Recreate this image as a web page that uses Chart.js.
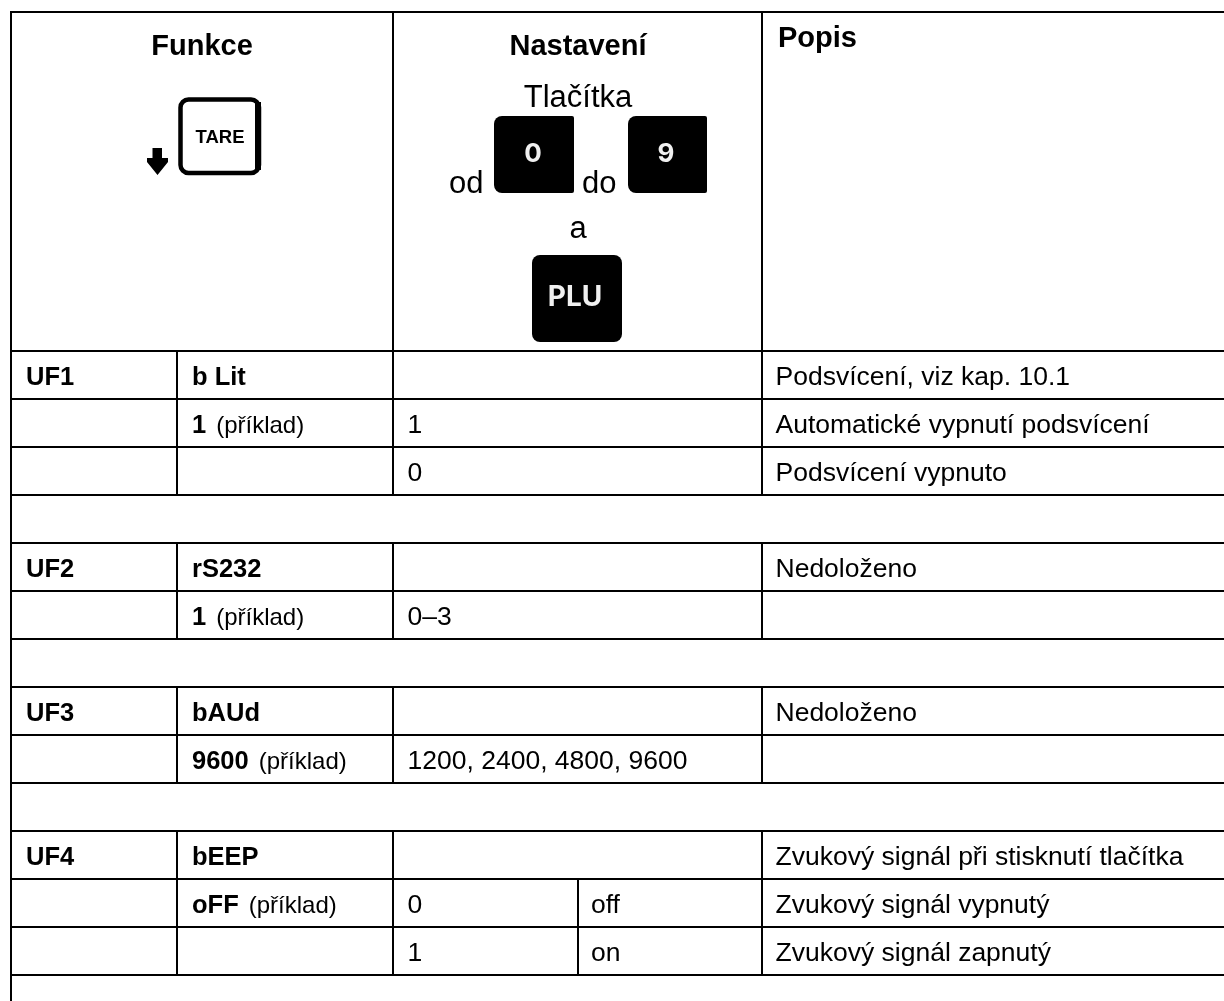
<!DOCTYPE html>
<html><head><meta charset="utf-8">
<style>html,body{margin:0;padding:0;background:#fff}canvas{display:block}</style>
<script src="https://cdn.jsdelivr.net/npm/chart.js@4"></script>
</head><body><canvas id="c" width="1224" height="1001"></canvas>
<script>
// Table content
const col1 = ["UF1","","","", "UF2","","", "UF3","","", "UF4","",""];
const col2Bold = ["b Lit","1","","", "rS232","1","", "bAUd","9600","", "bEEP","oFF",""];
const col2Note = ["","(příklad)","","", "","(příklad)","", "","(příklad)","", "","(příklad)",""];
const col3 = ["","1","0","", "","0–3","", "","1200, 2400, 4800, 9600","", "","0","1"];
const col4 = ["","","","", "","","", "","","", "","off","on"];
const col5 = ["Podsvícení, viz kap. 10.1","Automatické vypnutí podsvícení","Podsvícení vypnuto","",
 "Nedoloženo","","", "Nedoloženo","","", "Zvukový signál při stisknutí tlačítka","Zvukový signál vypnutý","Zvukový signál zapnutý"];
const headerBold = ["Funkce","Nastavení","Popis"];
const headerLines = ["Tlačítka","od","do","a"];
const keyLabels = ["TARE","0","9","PLU"];

// Layout (pixel grid of the reference, read through the chart's scales)
const colX = [11,177,393,578,762,1224];
const rowY = [12,351,399,447,495,543,591,639,687,735,783,831,879,927,975];
const spacerRows = [3,6,9];
const FONT = '"Liberation Sans", Arial, sans-serif';
const BODY = 26.5, BOLD = 25.5, NOTE = 24, HEAD = 29, HEADREG = 31;

const tablePlugin = {
  id:'table',
  afterDatasetsDraw(chart){
    const {ctx, scales:{x,y}} = chart;
    const X=v=>x.getPixelForValue(v), Y=v=>y.getPixelForValue(v);
    ctx.save();
    ctx.strokeStyle='#000'; ctx.lineWidth=2; ctx.lineCap='butt';
    const line=(a,b,c,d)=>{ctx.beginPath();ctx.moveTo(X(a),Y(b));ctx.lineTo(X(c),Y(d));ctx.stroke();};
    rowY.forEach(r=>line(colX[0]-1,r,1224,r));
    line(colX[0],rowY[0],colX[0],1001);
    line(colX[2],rowY[0],colX[2],rowY[1]);
    line(colX[4],rowY[0],colX[4],rowY[1]);
    for(let i=0;i<col1.length;i++){
      if(spacerRows.includes(i)) continue;
      const t=rowY[i+1], b=rowY[i+2];
      line(colX[1],t,colX[1],b); line(colX[2],t,colX[2],b); line(colX[4],t,colX[4],b);
      if(col4[i]) line(colX[3],t,colX[3],b);
    }
    ctx.fillStyle='#000'; ctx.textBaseline='alphabetic';
    const text=(s,px,py,size,bold,align)=>{
      ctx.font=(bold?'bold ':'')+size+'px '+FONT; ctx.textAlign=align||'left';
      ctx.fillText(s,X(px),Y(py));
    };
    text(headerBold[0],202,55,HEAD,true,'center');
    text(headerBold[1],578,55,HEAD,true,'center');
    text(headerBold[2],778,47,HEAD,true);
    text(headerLines[0],578,107,HEADREG,false,'center');
    text(headerLines[1],449,193,HEADREG,false);
    text(headerLines[2],582,193,HEADREG,false);
    text(headerLines[3],578,238,HEADREG,false,'center');
    for(let i=0;i<col1.length;i++){
      const base=rowY[i+1]+33.5;
      if(col1[i]) text(col1[i],26,base,BOLD,true);
      if(col2Bold[i]){
        text(col2Bold[i],192,base,BOLD,true);
        if(col2Note[i]){
          ctx.font='bold '+BOLD+'px '+FONT;
          const w=ctx.measureText(col2Bold[i]).width;
          text(col2Note[i],192+w+10,base,NOTE,false);
        }
      }
      if(col3[i]) text(col3[i],407.5,base,BODY,false);
      if(col4[i]) text(col4[i],591,base,BODY,false);
      if(col5[i]) text(col5[i],775.5,base,BODY,false);
    }
    // keys
    const rr=(a,b,c,d,r)=>{ctx.beginPath();ctx.roundRect(X(a),Y(b),c-a,d-b,r);};
    ctx.lineWidth=4.5; rr(180.5,99.5,259,173,8); ctx.stroke();
    ctx.fillRect(X(255),Y(102),6,68);
    text(keyLabels[0],220,143,18.5,true,'center');
    // arrow
    ctx.beginPath();
    [[152.5,148],[162,148],[162,158],[168,158],[168,162],[157.5,175],[147,162],[147,158],[152.5,158]]
      .forEach((p,i)=>i?ctx.lineTo(X(p[0]),Y(p[1])):ctx.moveTo(X(p[0]),Y(p[1])));
    ctx.closePath(); ctx.fill();
    rr(494,116,574,193,[8,2,2,8]); ctx.fill();
    rr(628,116,707,193,[8,2,2,8]); ctx.fill();
    rr(532,255,622,342,8); ctx.fill();
    ctx.fillStyle='#f0f0f0';
    ctx.font='700 26px Inter'; ctx.textAlign='center';
    ctx.fillText(keyLabels[1],X(533),Y(162));
    ctx.fillText(keyLabels[2],X(666),Y(162));
    ctx.font='700 28px Inter'; ctx.fillText(keyLabels[3],X(575),Y(306));
    ctx.restore();
  }
};
new Chart(document.getElementById('c'),{
  type:'scatter',
  data:{datasets:[{data:[],pointRadius:0}]},
  options:{responsive:false,animation:false,layout:{padding:0},
    plugins:{legend:{display:false},tooltip:{enabled:false}},
    scales:{x:{type:'linear',min:0,max:1224,display:false},y:{type:'linear',min:0,max:1001,reverse:true,display:false}}},
  plugins:[tablePlugin]
});
</script></body></html>
